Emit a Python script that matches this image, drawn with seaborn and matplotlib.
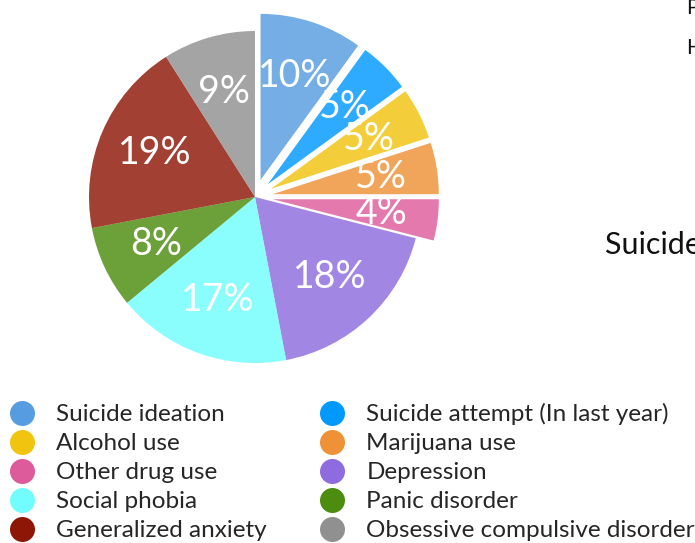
import matplotlib
matplotlib.use("Agg")
import matplotlib.pyplot as plt
import seaborn as sns
from matplotlib.lines import Line2D

# ---------------------------------------------------------
# DATA
# ---------------------------------------------------------
labels = [
    "Suicide ideation", "Suicide attempt (In last year)",
    "Alcohol use", "Marijuana use",
    "Other drug use", "Depression",
    "Social phobia", "Panic disorder",
    "Generalized anxiety", "Obsessive compulsive disorder",
]
shares = [10, 5, 5, 5, 4, 18, 17, 8, 19, 9]
exploded = [1, 1, 1, 1, 1, 0, 0, 0, 0, 0]
colors = [
    "#559de0", "#0099ff", "#f1c40f", "#ee9137", "#de5b9b",
    "#8e6bde", "#71fdfd", "#4c8c0e", "#8e1606", "#909090",
]

# ---------------------------------------------------------
# STYLE
# ---------------------------------------------------------
sns.set_theme(style="white")
plt.rcParams["font.family"] = ["Lato", "DejaVu Sans"]

W, H = 695, 543
fig = plt.figure(figsize=(W / 100, H / 100), dpi=100)
ax = fig.add_axes([0, 0, 1, 1])

# ---------------------------------------------------------
# PIE  (axes in pixel units, explode is absolute)
# ---------------------------------------------------------
wedges, texts, autotexts = ax.pie(
    shares,
    colors=colors,
    explode=[18 * e for e in exploded],
    startangle=90,
    counterclock=False,
    center=(255, H - 197),
    radius=166,
    autopct="%1.0f%%",
    pctdistance=0.66,
    wedgeprops=dict(alpha=0.82, linewidth=0),
    textprops=dict(color="white", fontsize=27),
    frame=True,
)
ax.set_xlim(0, W)
ax.set_ylim(0, H)
ax.set_aspect("equal")
ax.axis("off")

# ---------------------------------------------------------
# LEGEND (row-wise order like the original -> reorder for column fill)
# ---------------------------------------------------------
handles = [
    Line2D([], [], marker="o", linestyle="", markersize=18,
           markerfacecolor=c, markeredgewidth=0)
    for c in colors
]
order = [0, 2, 4, 6, 8, 1, 3, 5, 7, 9]
fig.legend(
    [handles[i] for i in order], [labels[i] for i in order],
    ncol=2, loc="upper left",
    bbox_to_anchor=(10 / W, 1 - 403 / H), frameon=False,
    fontsize=17.5, handlelength=1.0, handletextpad=0.9,
    columnspacing=2.2, labelspacing=0.33, borderpad=0.0,
    borderaxespad=0.0,
)

# cut-off text from the neighbouring panel
fig.text(686 / W, 1 - 8 / H, "P", fontsize=15, va="center", color="#111111")
fig.text(686 / W, 1 - 48 / H, "H", fontsize=15, va="center", color="#111111")
fig.text(605 / W, 1 - 245 / H, "Suicide ideation", fontsize=22,
         va="center", color="#111111")

fig.savefig("out.png", dpi=100)
